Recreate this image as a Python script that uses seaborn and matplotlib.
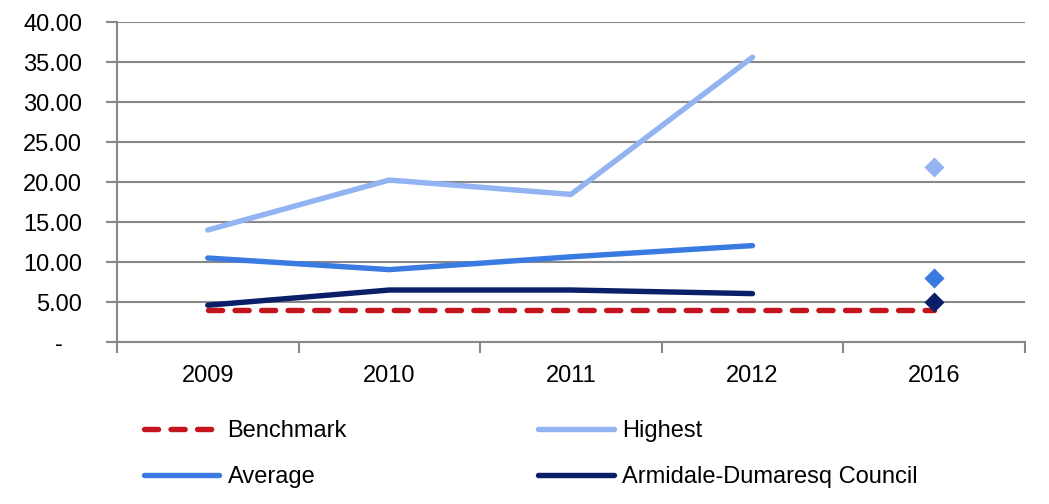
import numpy as np
import pandas as pd
import matplotlib
matplotlib.use("Agg")
import matplotlib.pyplot as plt
from matplotlib.lines import Line2D
from matplotlib.ticker import FixedLocator, FuncFormatter
import seaborn as sns

years = ["2009", "2010", "2011", "2012", "2016"]
benchmark = [4.0, 4.0, 4.0, 4.0, 4.0]
highest = [14.0, 20.25, 18.45, 35.6, 21.9]
average = [10.5, 9.05, 10.65, 12.05, 8.0]
council = [4.6, 6.5, 6.5, 6.05, 5.0]

series_names = ["Benchmark", "Highest", "Average", "Armidale-Dumaresq Council"]
colors = {
    "Benchmark": "#C4151F",
    "Highest": "#93B4F2",
    "Average": "#3A7BE2",
    "Armidale-Dumaresq Council": "#0B1F69",
}

sns.set_theme(style="white")
plt.rcParams["font.family"] = ["Liberation Sans", "DejaVu Sans"]
plt.rcParams["text.color"] = "#000000"

FS = 17
fig = plt.figure(figsize=(10.49, 5.04), dpi=100)
ax = fig.add_axes([0.1115, 0.3214, 0.8655, 0.6349])

pos = np.arange(len(years))
lw = 3.9
dash = (2.6, 2.3)

# Benchmark runs across every category as a dashed line
sns.lineplot(x=pos, y=benchmark, ax=ax, color=colors["Benchmark"], lw=lw,
             legend=False)
ax.lines[-1].set_dashes(dash)
ax.lines[-1].set_dash_capstyle("round")

# Other series: connected line for 2009-2012, lone marker for 2016
for name, vals in [("Highest", highest), ("Average", average),
                   ("Armidale-Dumaresq Council", council)]:
    sns.lineplot(x=pos[:4], y=vals[:4], ax=ax, color=colors[name], lw=lw,
                 legend=False)
    ax.lines[-1].set_solid_capstyle("round")
    sns.scatterplot(x=pos[4:], y=vals[4:], ax=ax, color=colors[name],
                    marker="D", s=105, edgecolor=colors[name], linewidth=0,
                    legend=False, zorder=3)

ax.set_xlim(-0.5, 4.5)
ax.set_ylim(0, 40)
ax.set_xticks(pos)
ax.set_xticklabels(years)
ax.xaxis.set_minor_locator(FixedLocator(np.arange(-0.5, 4.6, 1.0)))
ax.tick_params(axis="x", which="major", length=0, pad=16.5, labelsize=FS,
               labelcolor="#000000")
ax.tick_params(axis="x", which="minor", length=8, width=1.5, color="#888888",
               direction="out", bottom=True)
ax.set_yticks(np.arange(0, 41, 5))
ax.yaxis.set_major_formatter(
    FuncFormatter(lambda v, p: "-   " if v == 0 else f"{v:.2f}"))
ax.tick_params(axis="y", length=8, width=1.5, color="#888888", direction="out",
               left=True, pad=17, labelsize=FS, labelcolor="#000000")

ax.grid(axis="y", color="#888888", lw=1.5)
ax.set_axisbelow(True)
for side in ["top", "right"]:
    ax.spines[side].set_visible(False)
for side in ["left", "bottom"]:
    ax.spines[side].set_color("#888888")
    ax.spines[side].set_linewidth(1.5)
ax.set_xlabel("")
ax.set_ylabel("")

handles = {}
for name in series_names:
    h = Line2D([], [], color=colors[name], lw=lw,
               solid_capstyle="round", dash_capstyle="round")
    if name == "Benchmark":
        h.set_dashes(dash)
    handles[name] = h

# legend is filled column-wise, so order entries to read across rows
order = ["Benchmark", "Average", "Highest", "Armidale-Dumaresq Council"]
fig.legend([handles[n] for n in order], order, ncol=2, loc="upper left",
           bbox_to_anchor=(0.137, 0.166), frameon=False, fontsize=FS,
           handlelength=3.2, handletextpad=0.35, columnspacing=8.1,
           labelspacing=1.02, borderpad=0, borderaxespad=0,
           labelcolor="#000000")

fig.savefig("out.png", dpi=100)
